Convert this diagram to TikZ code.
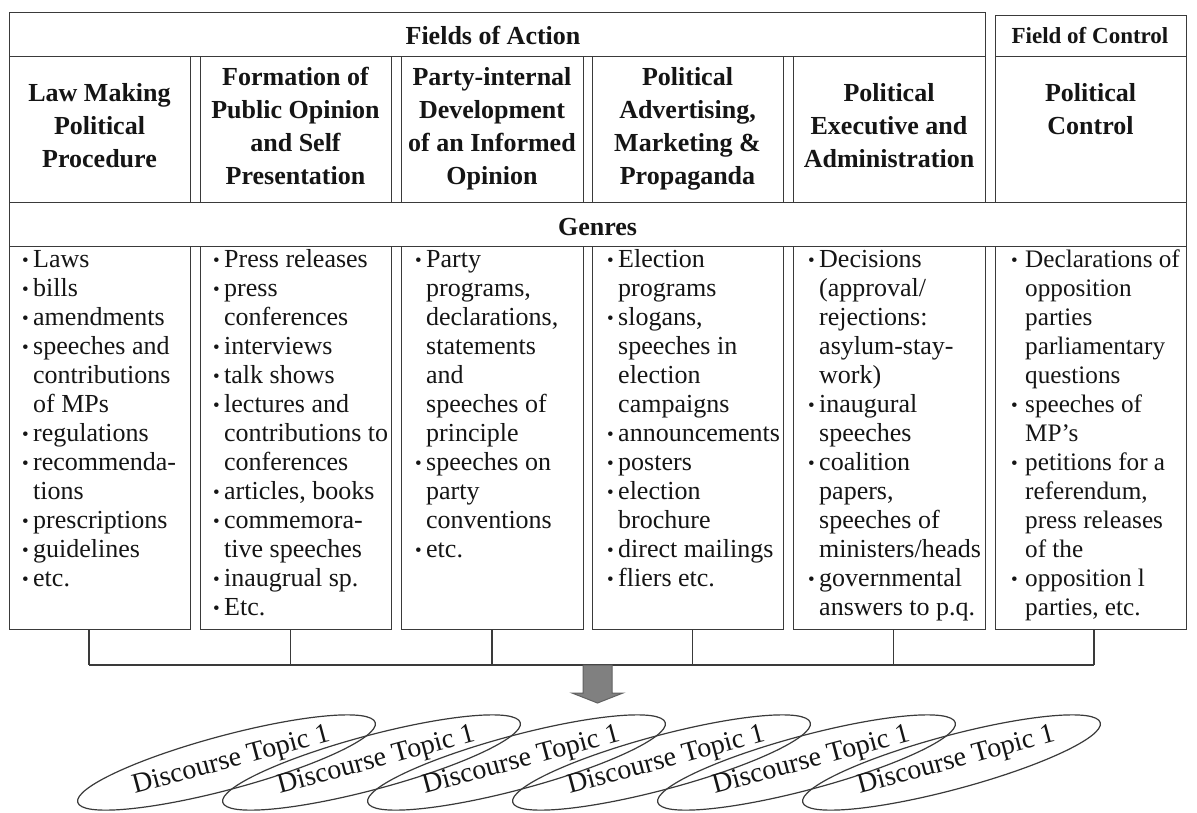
\documentclass[tikz,border=0pt]{standalone}
\usepackage{fontspec}
\setmainfont{Liberation Serif}
\usetikzlibrary{shapes.geometric}
\definecolor{lc}{HTML}{3A3A3A}
\definecolor{tc}{HTML}{151515}
\definecolor{arrowfill}{HTML}{808080}
\newcommand{\bu}{\makebox[11pt][l]{\fontsize{19pt}{19pt}\selectfont\raisebox{1pt}{•}}}
\newcommand{\bw}{\makebox[14pt][l]{\fontsize{19pt}{19pt}\selectfont\raisebox{1pt}{•}}}
\newcommand{\ind}{\hspace*{11pt}}
\newcommand{\indw}{\hspace*{14pt}}
\tikzset{
  frame/.style={draw=lc, line width=1.3pt, inner sep=0pt, anchor=north west},
  hdr/.style={text=tc, inner sep=0pt, anchor=north, align=center, font=\bfseries\fontsize{26pt}{33pt}\selectfont},
  lbl/.style={text=tc, inner sep=0pt, anchor=base, font=\bfseries\fontsize{26pt}{30pt}\selectfont},
  lblsmall/.style={text=tc, inner sep=0pt, anchor=base, font=\bfseries\fontsize{23pt}{26pt}\selectfont},
  body/.style={text=tc, inner sep=0pt, anchor=north west, align=left, font=\fontsize{26pt}{29pt}\selectfont},
  bodynarrow/.style={body, font=\fontsize{25.2pt}{29pt}\selectfont},
  conn/.style={draw=lc, line width=1.3pt},
  topic/.style={draw=lc, line width=1.2pt, ellipse, text=tc, inner sep=0pt, minimum width=308pt, minimum height=54pt, rotate=15, font=\fontsize{28pt}{30pt}\selectfont}
}
\begin{document}
\begin{tikzpicture}[x=1pt,y=-1pt]
\useasboundingbox[fill=white] (0,0) rectangle (1197,812);
% top boxes
\node[frame, minimum width=976pt, minimum height=44pt] (foa) at (9,12) {};
\node[frame, minimum width=191pt, minimum height=41pt] (foc) at (995,15) {};
\node[lbl] (foat) at (493,44) {Fields of Action};
\node[lblsmall] (foct) at (1090,43) {Field of Control};
% header cells
\node[frame, minimum width=181pt, minimum height=146pt] (h1) at (9,56) {};
\node[frame, minimum width=191pt, minimum height=146pt] (h2) at (200,56) {};
\node[frame, minimum width=182pt, minimum height=146pt] (h3) at (401,56) {};
\node[frame, minimum width=191pt, minimum height=146pt] (h4) at (592,56) {};
\node[frame, minimum width=192pt, minimum height=146pt] (h5) at (793,56) {};
\node[frame, minimum width=191pt, minimum height=146pt] (h6) at (995,56) {};
\node[hdr] (ht1) at (99.5,81) {\rule{0pt}{20pt}Law Making\\Political\\Procedure};
\node[hdr] (ht2) at (295.5,65) {\rule{0pt}{20pt}Formation of\\Public Opinion\\and Self\\Presentation};
\node[hdr] (ht3) at (492,65) {\rule{0pt}{20pt}Party-internal\\Development\\of an Informed\\Opinion};
\node[hdr] (ht4) at (687.5,65) {\rule{0pt}{20pt}Political\\Advertising,\\Marketing \&\\Propaganda};
\node[hdr] (ht5) at (889,81) {\rule{0pt}{20pt}Political\\Executive and\\Administration};
\node[hdr] (ht6) at (1090.5,81) {\rule{0pt}{20pt}Political\\Control};
% genres bar
\node[frame, minimum width=1177pt, minimum height=44pt] (gb) at (9,202) {};
\node[lbl] (gbt) at (597.5,235) {Genres};
% genre cells
\node[frame, minimum width=181pt, minimum height=383pt] (g1) at (9,246) {};
\node[frame, minimum width=191pt, minimum height=383pt] (g2) at (200,246) {};
\node[frame, minimum width=182pt, minimum height=383pt] (g3) at (401,246) {};
\node[frame, minimum width=191pt, minimum height=383pt] (g4) at (592,246) {};
\node[frame, minimum width=192pt, minimum height=383pt] (g5) at (793,246) {};
\node[frame, minimum width=191pt, minimum height=383pt] (g6) at (995,246) {};
% genre texts
\node[body] (t1) at (22,245) {\rule{0pt}{22pt}\bu Laws\\\bu bills\\\bu amendments\\\bu speeches and\\\ind contributions\\\ind of MPs\\\bu regulations\\\bu recommenda-\\\ind tions\\\bu prescriptions\\\bu guidelines\\\bu etc.};
\node[body] (t2) at (213,245) {\rule{0pt}{22pt}\bu Press releases\\\bu press\\\ind conferences\\\bu interviews\\\bu talk shows\\\bu lectures and\\\ind contributions to\\\ind conferences\\\bu articles, books\\\bu commemora-\\\ind tive speeches\\\bu inaugrual sp.\\\bu Etc.};
\node[body] (t3) at (415,245) {\rule{0pt}{22pt}\bu Party\\\ind programs,\\\ind declarations,\\\ind statements\\\ind and\\\ind speeches of\\\ind principle\\\bu speeches on\\\ind party\\\ind conventions\\\bu etc.};
\node[body] (t4) at (607,245) {\rule{0pt}{22pt}\bu Election\\\ind programs\\\bu slogans,\\\ind speeches in\\\ind election\\\ind campaigns\\\bu announcements\\\bu posters\\\bu election\\\ind brochure\\\bu direct mailings\\\bu fliers etc.};
\node[body] (t5) at (808,245) {\rule{0pt}{22pt}\bu Decisions\\\ind (approval/\\\ind rejections:\\\ind asylum-stay-\\\ind work)\\\bu inaugural\\\ind speeches\\\bu coalition\\\ind papers,\\\ind speeches of\\\ind ministers/heads\\\bu governmental\\\ind answers to p.q.};
\node[bodynarrow] (t6) at (1011,245) {\rule{0pt}{22pt}\bw Declarations of\\\indw opposition\\\indw parties\\\indw parliamentary\\\indw questions\\\bw speeches of\\\indw MP’s\\\bw petitions for a\\\indw referendum,\\\indw press releases\\\indw of the\\\bw opposition l\\\indw parties, etc.};
% bus connectors
\coordinate (b1) at (89,665);
\coordinate (b2) at (290.5,665);
\coordinate (b3) at (492,665);
\coordinate (b4) at (692.5,665);
\coordinate (b5) at (893.5,665);
\coordinate (b6) at (1094,665);
\draw[conn] (g1.south -| b1) -- (b1);
\draw[conn] (g2.south -| b2) -- (b2);
\draw[conn] (g3.south -| b3) -- (b3);
\draw[conn] (g4.south -| b4) -- (b4);
\draw[conn] (g5.south -| b5) -- (b5);
\draw[conn] (g6.south -| b6) -- (b6);
\draw[conn] (b1) -- (b6);
% block arrow
\coordinate (arr) at (597.5,665);
\filldraw[fill=arrowfill, draw=lc!80, line width=1pt] (arr) ++(-14.5,0) -- ++(29,0) -- ++(0,28) -- ++(11,0) -- (597.5,703) -- (572,693) -- ++(11,0) -- cycle;
% discourse topics
\node[topic] (e1) at (226.5,762.5) {\hspace*{10pt}Discourse Topic 1};
\node[topic] (e2) at (371.5,762.5) {\hspace*{10pt}Discourse Topic 1};
\node[topic] (e3) at (516.5,762.5) {\hspace*{10pt}Discourse Topic 1};
\node[topic] (e4) at (661.5,762.5) {\hspace*{10pt}Discourse Topic 1};
\node[topic] (e5) at (806.5,762.5) {\hspace*{10pt}Discourse Topic 1};
\node[topic] (e6) at (951.5,762.5) {\hspace*{10pt}Discourse Topic 1};
\end{tikzpicture}
\end{document}
